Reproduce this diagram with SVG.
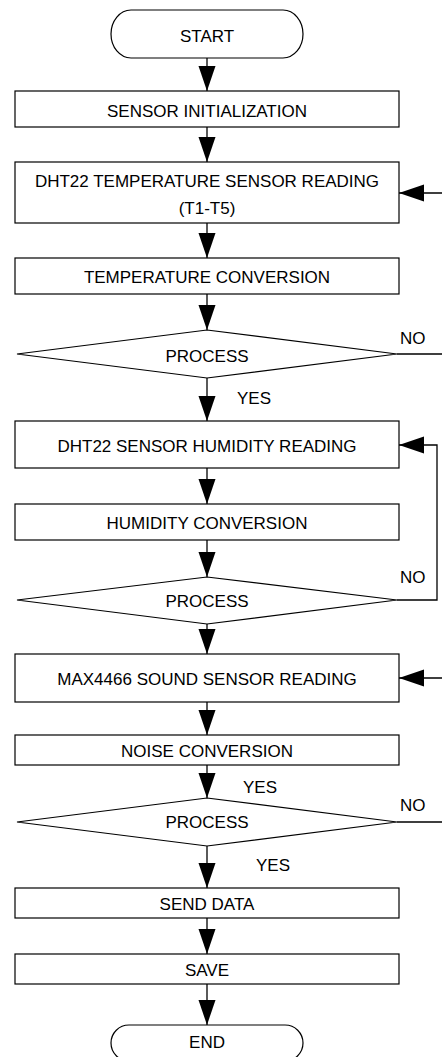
<svg xmlns="http://www.w3.org/2000/svg" width="442" height="1057" viewBox="0 0 442 1057">
<defs>
<style>
.box{fill:#fff;stroke:#000;stroke-width:1.2}
.t{font-family:"Liberation Sans",Arial,sans-serif;font-size:17px;fill:#000;text-anchor:middle}
.l{font-family:"Liberation Sans",Arial,sans-serif;font-size:17px;fill:#000;text-anchor:start}
.c{fill:none;stroke:#000;stroke-width:1.3}
</style>
<marker id="ah" markerUnits="userSpaceOnUse" markerWidth="26" markerHeight="18" refX="25" refY="8.5" orient="auto">
<path d="M0,0 L25,8.5 L0,17 z" fill="#000"/>
</marker>
</defs>
<rect width="442" height="1057" fill="#fff"/>
<g id="connectors">
<line class="c" x1="207" y1="58" x2="207" y2="91" marker-end="url(#ah)"/>
<line class="c" x1="207" y1="127" x2="207" y2="162" marker-end="url(#ah)"/>
<line class="c" x1="207" y1="223" x2="207" y2="258" marker-end="url(#ah)"/>
<line class="c" x1="207" y1="294" x2="207" y2="330" marker-end="url(#ah)"/>
<line class="c" x1="207" y1="378" x2="207" y2="421" marker-end="url(#ah)"/>
<line class="c" x1="207" y1="468" x2="207" y2="504" marker-end="url(#ah)"/>
<line class="c" x1="207" y1="540" x2="207" y2="577" marker-end="url(#ah)"/>
<line class="c" x1="207" y1="624" x2="207" y2="654" marker-end="url(#ah)"/>
<line class="c" x1="207" y1="702" x2="207" y2="735" marker-end="url(#ah)"/>
<line class="c" x1="207" y1="765" x2="207" y2="798" marker-end="url(#ah)"/>
<line class="c" x1="207" y1="846" x2="207" y2="888" marker-end="url(#ah)"/>
<line class="c" x1="207" y1="918" x2="207" y2="954" marker-end="url(#ah)"/>
<line class="c" x1="207" y1="984" x2="207" y2="1025" marker-end="url(#ah)"/>
<polyline class="c" points="397,354 452,354 452,193 399,193" marker-end="url(#ah)"/>
<polyline class="c" points="397,600 437,600 437,445 399,445" marker-end="url(#ah)"/>
<polyline class="c" points="397,822 452,822 452,678 399,678" marker-end="url(#ah)"/>
<text class="l" x="400" y="344">NO</text>
<text class="l" x="237" y="404">YES</text>
<text class="l" x="400" y="583">NO</text>
<text class="l" x="243" y="792.5">YES</text>
<text class="l" x="400" y="811">NO</text>
<text class="l" x="256" y="870.5">YES</text>
</g>
<g id="start"><rect class="box" x="111" y="10" width="192" height="48" rx="20" ry="24"/><text class="t" x="207" y="41.5">START</text></g>
<g id="sensor-init"><rect class="box" x="15" y="91" width="384" height="36"/><text class="t" x="207" y="116.5">SENSOR INITIALIZATION</text></g>
<g id="temp-read"><rect class="box" x="15" y="162" width="384" height="61"/><text class="t" x="207" y="187.3">DHT22 TEMPERATURE SENSOR READING</text><text class="t" x="207" y="214">(T1-T5)</text></g>
<g id="temp-conv"><rect class="box" x="15" y="258" width="384" height="36"/><text class="t" x="207" y="282.7">TEMPERATURE CONVERSION</text></g>
<g id="process1"><polygon class="box" points="207,330 397,354 207,378 17,354"/><text class="t" x="207" y="361.7">PROCESS</text></g>
<g id="hum-read"><rect class="box" x="15" y="421" width="384" height="47"/><text class="t" x="207" y="451.7">DHT22 SENSOR HUMIDITY READING</text></g>
<g id="hum-conv"><rect class="box" x="15" y="504" width="384" height="36"/><text class="t" x="207" y="529">HUMIDITY CONVERSION</text></g>
<g id="process2"><polygon class="box" points="207,577 397,600 207,624 17,600"/><text class="t" x="207" y="606.7">PROCESS</text></g>
<g id="sound-read"><rect class="box" x="15" y="654" width="384" height="48"/><text class="t" x="207" y="685">MAX4466 SOUND SENSOR READING</text></g>
<g id="noise-conv"><rect class="box" x="15" y="735" width="384" height="30"/><text class="t" x="207" y="756.7">NOISE CONVERSION</text></g>
<g id="process3"><polygon class="box" points="207,798 397,822 207,846 17,822"/><text class="t" x="207" y="828.3">PROCESS</text></g>
<g id="send"><rect class="box" x="15" y="888" width="384" height="30"/><text class="t" x="207" y="910">SEND DATA</text></g>
<g id="save"><rect class="box" x="15" y="954" width="384" height="30"/><text class="t" x="207" y="975.7">SAVE</text></g>
<g id="end"><rect class="box" x="111" y="1025" width="192" height="36" rx="18" ry="18"/><text class="t" x="207" y="1048.3">END</text></g>
</svg>
